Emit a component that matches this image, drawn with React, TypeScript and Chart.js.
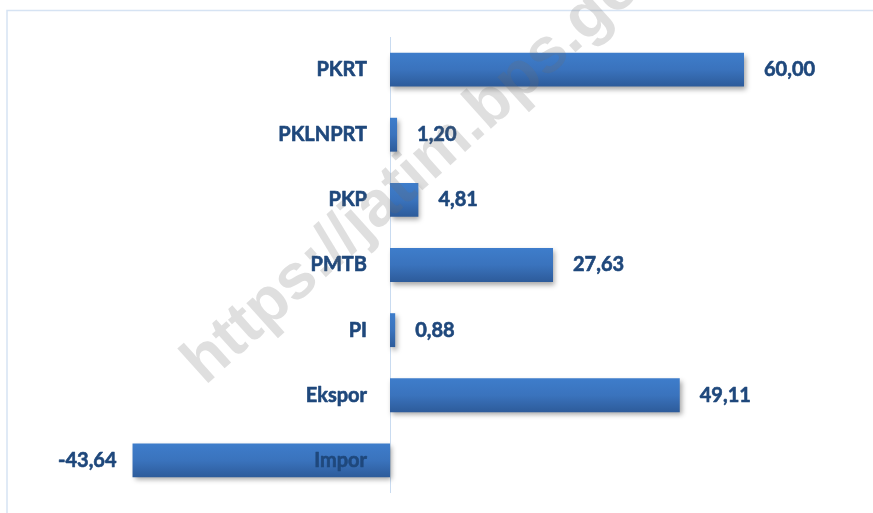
import React, { useEffect, useRef } from "react";
import { Chart, registerables } from "chart.js";

Chart.register(...registerables);

const categories = ["PKRT", "PKLNPRT", "PKP", "PMTB", "PI", "Ekspor", "Impor"];
const values = [60.0, 1.2, 4.81, 27.63, 0.88, 49.11, -43.64];
const valueLabels = ["60,00", "1,20", "4,81", "27,63", "0,88", "49,11", "-43,64"];
const watermark = "https://jatim.bps.go.id";

const FONT = "bold 20px Lato, 'Liberation Sans', sans-serif";
const TEXT = "#1f487c";

export default function App() {
  const ref = useRef<HTMLCanvasElement | null>(null);
  useEffect(() => {
    document.body.style.margin = "0";
    const canvas = ref.current!;
    const framePlugin = {
      id: "frame",
      beforeDraw(chart: any) {
        const ctx = chart.ctx;
        ctx.save();
        ctx.fillStyle = "#ffffff";
        ctx.fillRect(0, 0, chart.width, chart.height);
        ctx.strokeStyle = "#d6e3f3";
        ctx.lineWidth = 1.5;
        ctx.strokeRect(7, 10.5, chart.width + 20, chart.height + 20);
        const x0 = chart.scales.x.getPixelForValue(0);
        ctx.strokeStyle = "#c9dbf0";
        ctx.lineWidth = 1;
        ctx.beginPath();
        ctx.moveTo(Math.round(x0) + 0.5, chart.chartArea.top);
        ctx.lineTo(Math.round(x0) + 0.5, chart.chartArea.bottom);
        ctx.stroke();
        ctx.restore();
      },
      beforeDatasetsDraw(chart: any) {
        const ctx = chart.ctx;
        ctx.save();
        ctx.shadowColor = "rgba(0,0,0,0.35)";
        ctx.shadowBlur = 5;
        ctx.shadowOffsetX = 2;
        ctx.shadowOffsetY = 3;
      },
      afterDatasetsDraw(chart: any) {
        const ctx = chart.ctx;
        ctx.restore();
        ctx.save();
        const meta = chart.getDatasetMeta(0);
        const x0 = chart.scales.x.getPixelForValue(0);
        ctx.font = FONT;
        ctx.fillStyle = TEXT;
        ctx.strokeStyle = TEXT;
        ctx.lineWidth = 0.6;
        ctx.lineJoin = "round";
        ctx.textBaseline = "middle";
        const put = (t: string, x: number, y: number) => {
          ctx.fillText(t, x, y);
          ctx.strokeText(t, x, y);
        };
        meta.data.forEach((bar: any, i: number) => {
          const y = bar.y;
          ctx.textAlign = "right";
          put(categories[i], x0 - 23, y);
          if (values[i] >= 0) {
            ctx.textAlign = "left";
            put(valueLabels[i], bar.x + 20, y);
          } else {
            ctx.textAlign = "right";
            put(valueLabels[i], bar.x - 16, y);
          }
        });
        ctx.restore();
      },
      afterDraw(chart: any) {
        const ctx = chart.ctx;
        ctx.save();
        ctx.translate(205, 386);
        ctx.rotate((-42 * Math.PI) / 180);
        ctx.font = "bold 64px 'Liberation Sans', Arial, sans-serif";
        ctx.fillStyle = "rgba(110,110,110,0.22)";
        ctx.textBaseline = "alphabetic";
        ctx.textAlign = "left";
        ctx.fillText(watermark, 0, 0);
        ctx.restore();
      },
    };
    const chart = new Chart(canvas, {
      type: "bar",
      data: {
        labels: categories,
        datasets: [
          {
            data: values,
            barPercentage: 0.52,
            categoryPercentage: 1,
            backgroundColor: (c: any) => {
              const ch = c.chart;
              const y = ch.scales && ch.scales.y;
              if (!y || c.dataIndex === undefined) return "#3a70b8";
              const yc = y.getPixelForValue(c.dataIndex);
              if (!isFinite(yc)) return "#3a70b8";
              const g = ch.ctx.createLinearGradient(0, yc - 17, 0, yc + 17);
              g.addColorStop(0, "#3e7dcb");
              g.addColorStop(0.5, "#3a73bd");
              g.addColorStop(1, "#2d5b9a");
              return g;
            },
            borderWidth: 0,
          },
        ],
      },
      options: {
        indexAxis: "y",
        animation: false,
        responsive: false,
        layout: { padding: { left: 36, right: 11, top: 37, bottom: 20 } },
        plugins: { legend: { display: false }, tooltip: { enabled: false } },
        scales: {
          x: { display: false, min: -60, max: 80 },
          y: { display: false },
        },
      },
      plugins: [framePlugin],
    } as any);
    return () => chart.destroy();
  }, []);
  return <canvas ref={ref} width={873} height={513} style={{ display: "block" }} />;
}
